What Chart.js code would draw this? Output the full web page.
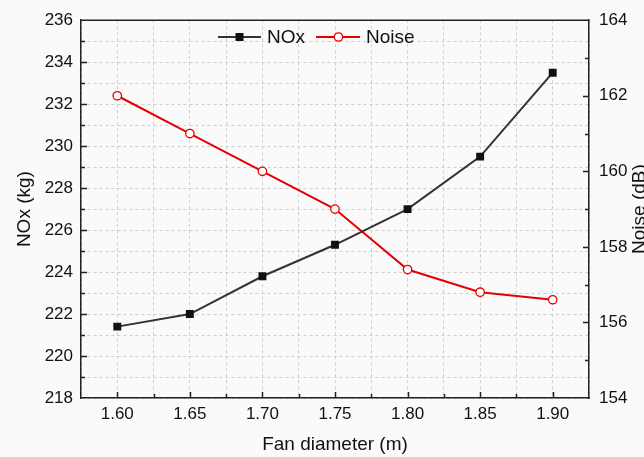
<!DOCTYPE html>
<html><head><meta charset="utf-8">
<script src="https://cdn.jsdelivr.net/npm/chart.js@4/dist/chart.umd.min.js"></script>
<style>html,body{margin:0;padding:0;background:#fafafa;overflow:hidden}</style>
</head><body>
<canvas id="c" width="644" height="457"></canvas>
<script>
// ---- data ----
const fanDiameter = [1.60, 1.65, 1.70, 1.75, 1.80, 1.85, 1.90];
const noxValues   = [221.4, 222.0, 223.8, 225.3, 227.0, 229.5, 233.5];
const noiseValues = [162.0, 161.0, 160.0, 159.0, 157.4, 156.8, 156.6];
const xTickValues = [1.575, 1.600, 1.625, 1.650, 1.675, 1.700, 1.725, 1.750, 1.775, 1.800, 1.825, 1.850, 1.875, 1.900, 1.925];
const xTickLabels = ['1.60', '1.65', '1.70', '1.75', '1.80', '1.85', '1.90'];
const leftTickLabels = ['218', '220', '222', '224', '226', '228', '230', '232', '234', '236'];
const rightTickLabels = ['154', '156', '158', '160', '162', '164'];
const seriesNames = ['NOx', 'Noise'];
const axisTitles = { x: 'Fan diameter (m)', y: 'NOx (kg)', y1: 'Noise (dB)' };

const FONT = "'Liberation Sans', Arial, sans-serif";
const NOX_COLOR = '#333333';
const NOISE_COLOR = '#e60000';
const AXIS_COLOR = '#222222';
const GRID_COLOR = '#cfcfcf';

const isMajorX = v => Math.round(v * 1000) % 50 === 0;

const framePlugin = {
  id: 'frame',
  afterDraw(chart) {
    const ctx = chart.ctx;
    const a = chart.chartArea;
    const sx = chart.scales.x, sy = chart.scales.y, sy1 = chart.scales.y1;
    ctx.save();
    ctx.strokeStyle = AXIS_COLOR;
    ctx.lineWidth = 1.5;
    // top border
    ctx.beginPath();
    ctx.moveTo(a.left, a.top); ctx.lineTo(a.right, a.top);
    ctx.stroke();
    // inward ticks
    ctx.beginPath();
    xTickValues.forEach(v => {
      if (v <= sx.min || v >= sx.max) return;
      const p = Math.round(sx.getPixelForValue(v)) + 0.5;
      ctx.moveTo(p, a.bottom); ctx.lineTo(p, a.bottom - (isMajorX(v) ? 6 : 4));
    });
    for (let v = sy.min + 1; v < sy.max; v++) {
      const p = Math.round(sy.getPixelForValue(v)) + 0.5;
      ctx.moveTo(a.left, p); ctx.lineTo(a.left + (v % 2 === 0 ? 6 : 4), p);
    }
    for (let v = sy1.min + 1; v < sy1.max; v++) {
      const p = Math.round(sy1.getPixelForValue(v)) + 0.5;
      ctx.moveTo(a.right, p); ctx.lineTo(a.right - (v % 2 === 0 ? 6 : 4), p);
    }
    ctx.stroke();
    // right axis title (reads bottom-to-top)
    ctx.fillStyle = '#111';
    ctx.font = '19px ' + FONT;
    ctx.textAlign = 'center';
    ctx.textBaseline = 'middle';
    ctx.translate(640, (a.top + a.bottom) / 2);
    ctx.rotate(-Math.PI / 2);
    ctx.fillText(axisTitles.y1, 0, 0);
    ctx.restore();

    // legend
    ctx.save();
    const ly = 37;
    ctx.font = '19px ' + FONT;
    ctx.textBaseline = 'middle';
    ctx.textAlign = 'left';
    // NOx
    ctx.strokeStyle = NOX_COLOR; ctx.lineWidth = 2;
    ctx.beginPath(); ctx.moveTo(218, ly); ctx.lineTo(261, ly); ctx.stroke();
    ctx.fillStyle = '#111';
    ctx.fillRect(235.5, ly - 4, 8, 8);
    ctx.fillStyle = '#111';
    ctx.fillText(seriesNames[0], 267, ly + 1);
    // Noise
    ctx.strokeStyle = NOISE_COLOR; ctx.lineWidth = 2;
    ctx.beginPath(); ctx.moveTo(316, ly); ctx.lineTo(360, ly); ctx.stroke();
    ctx.beginPath(); ctx.arc(338.5, ly, 4.2, 0, Math.PI * 2);
    ctx.fillStyle = '#ffffff'; ctx.fill();
    ctx.lineWidth = 1.3; ctx.stroke();
    ctx.fillStyle = '#111';
    ctx.fillText(seriesNames[1], 366, ly + 1);
    ctx.restore();
  }
};

const bgPlugin = {
  id: 'bg',
  beforeDraw(chart) {
    const ctx = chart.ctx;
    ctx.save();
    ctx.fillStyle = '#fafafa';
    ctx.fillRect(0, 0, chart.width, chart.height);
    ctx.restore();
  }
};

new Chart(document.getElementById('c'), {
  type: 'line',
  data: {
    datasets: [
      {
        label: seriesNames[0],
        data: fanDiameter.map((x, i) => ({ x, y: noxValues[i] })),
        yAxisID: 'y',
        borderColor: NOX_COLOR,
        borderWidth: 2,
        pointStyle: 'rect',
        pointRadius: 5.6,
        pointBackgroundColor: '#111',
        pointBorderColor: '#111',
        pointBorderWidth: 0,
        tension: 0
      },
      {
        label: seriesNames[1],
        data: fanDiameter.map((x, i) => ({ x, y: noiseValues[i] })),
        yAxisID: 'y1',
        borderColor: NOISE_COLOR,
        borderWidth: 2,
        pointStyle: 'circle',
        pointRadius: 4.2,
        pointBackgroundColor: '#ffffff',
        pointBorderColor: NOISE_COLOR,
        pointBorderWidth: 1.3,
        tension: 0
      }
    ]
  },
  options: {
    responsive: false,
    animation: false,
    devicePixelRatio: 1,
    layout: { padding: { top: 19, left: 0, right: 0, bottom: 0 } },
    plugins: { legend: { display: false }, tooltip: { enabled: false } },
    scales: {
      x: {
        type: 'linear',
        min: 1.575, max: 1.925,
        afterBuildTicks: s => { s.ticks = xTickValues.map(v => ({ value: v })); },
        afterFit: s => { s.height = 59; },
        ticks: {
          autoSkip: false, maxRotation: 0, padding: 6,
          color: '#111', font: { family: FONT, size: 17 },
          callback: v => {
            if (!isMajorX(v)) return '';
            const idx = fanDiameter.findIndex(f => Math.abs(f - v) < 1e-6);
            return idx >= 0 ? xTickLabels[idx] : '';
          }
        },
        grid: { color: GRID_COLOR, lineWidth: 1, drawTicks: false },
        border: { color: AXIS_COLOR, width: 1.5, dash: [3, 3] },
        title: { display: true, text: axisTitles.x, color: '#111', font: { family: FONT, size: 19 }, padding: { top: 0, bottom: 1 } }
      },
      y: {
        position: 'left',
        min: 218, max: 236,
        afterFit: s => { s.width = 81; },
        ticks: {
          stepSize: 1, autoSkip: false, padding: 8,
          color: '#111', font: { family: FONT, size: 17 },
          callback: v => (v % 2 === 0 ? leftTickLabels[(v - 218) / 2] : '')
        },
        grid: { color: GRID_COLOR, lineWidth: 1, drawTicks: false },
        border: { color: AXIS_COLOR, width: 1.5, dash: [3, 3] },
        title: { display: true, text: axisTitles.y, color: '#111', font: { family: FONT, size: 19 }, padding: { top: 13, bottom: 0 } }
      },
      y1: {
        position: 'right',
        min: 154, max: 164,
        afterFit: s => { s.width = 55; },
        ticks: {
          stepSize: 1, autoSkip: false, padding: 10,
          color: '#111', font: { family: FONT, size: 17 },
          callback: v => (v % 2 === 0 ? rightTickLabels[(v - 154) / 2] : '')
        },
        grid: { display: false, drawTicks: false },
        border: { color: AXIS_COLOR, width: 1.5 },
        title: { display: false }
      }
    }
  },
  plugins: [bgPlugin, framePlugin]
});
</script>
</body></html>
